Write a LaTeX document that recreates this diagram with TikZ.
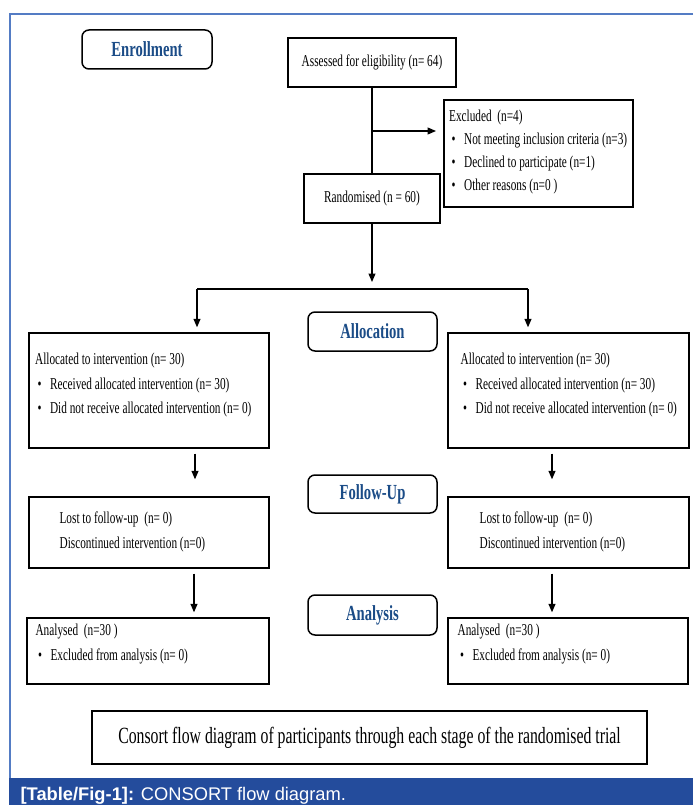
\documentclass[tikz,border=0pt]{standalone}
\usepackage{fontspec}
\setmainfont[FakeStretch=0.68]{Liberation Serif}
\newfontfamily\capfont{Liberation Sans}
\usetikzlibrary{arrows.meta}
\definecolor{stageblue}{RGB}{27,76,135}
\definecolor{frameblue}{RGB}{84,124,196}
\definecolor{barblue}{RGB}{36,76,156}
\newcommand{\itm}{\hspace*{2.5pt}\makebox[12.5pt][l]{\textbullet}}
\tikzset{
  box/.style={draw, line width=1.4pt, inner sep=0pt, font=\fontsize{16.6}{20}\selectfont},
  stage/.style={draw, rounded corners=7pt, line width=1.5pt, minimum width=129, minimum height=39,
    text=stageblue, font=\bfseries\fontsize{21.5}{24}\selectfont},
  txt/.style={anchor=west, align=left, inner sep=0pt},
}
\begin{document}
\begin{tikzpicture}[x=1pt, y=-1pt, >={Triangle[length=8.5pt,width=7pt]}, line width=1.2pt]
\useasboundingbox (0,0) rectangle (693,805);
% frame and caption bar
\draw[frameblue] (693,14) -- (10,14) -- (10,778);
\fill[barblue] (9,778) rectangle (693,805);
\node[anchor=west, inner sep=0pt, text=white, font=\capfont\fontsize{18.3}{20}\selectfont] (figcap) at (20,796) {\textbf{[Table/Fig-1]:} CONSORT flow diagram.};
% stages
\node[stage, minimum width=130] (enrol) at (147,49.5) {Enrollment};
\node[stage] (alloc) at (372.5,331.5) {Allocation};
\node[stage, minimum height=38] (folw) at (372.5,494) {Follow-Up};
\node[stage, minimum height=40] (anly) at (372.5,615) {Analysis};
% boxes
\node[box, minimum width=168, minimum height=49] (assess) at (372,62.5) {Assessed for eligibility (n= 64)};
\node[box, minimum width=189, minimum height=107] (excl) at (538.5,153.5) {};
\node[box, minimum width=136, minimum height=49] (rand) at (372,198.5) {Randomised (n = 60)};
\node[box, minimum width=240, minimum height=115] (allocL) at (149,390.5) {};
\node[box, minimum width=241, minimum height=115] (allocR) at (568.5,390.5) {};
\node[box, minimum width=240, minimum height=71] (folwL) at (149,532.5) {};
\node[box, minimum width=241, minimum height=71] (folwR) at (568.5,532.5) {};
\node[box, minimum width=242, minimum height=66] (anlyL) at (148,651) {};
\node[box, minimum width=240, minimum height=66] (anlyR) at (568,651) {};
\node[box, minimum width=555, minimum height=53, font=\fontsize{23.2}{26}\selectfont] (consort) at (369.5,737.5)
  {Consort flow diagram of participants through each stage of the randomised trial};
% box texts
\node[txt, font=\fontsize{16.6}{22.7}\selectfont] (exclT) at (448.5,152)
  {Excluded\ \ (n=4)\\ \itm Not meeting inclusion criteria (n=3)\\ \itm Declined to participate (n=1)\\ \itm Other reasons (n=0\ )};
\foreach \nm/\x in {allocLT/34.5, allocRT/460}
  \node[txt, font=\fontsize{16.6}{24.5}\selectfont] (\nm) at (\x,385.5)
    {Allocated to intervention (n= 30)\\ \itm Received allocated intervention (n= 30)\\ \itm Did not receive allocated intervention (n= 0)};
\foreach \nm/\x in {folwLT/59, folwRT/479}
  \node[txt, font=\fontsize{16.6}{25}\selectfont] (\nm) at (\x,531.5)
    {Lost to follow-up\ \ (n= 0)\\ Discontinued intervention (n=0)};
\foreach \nm/\x in {anlyLT/35, anlyRT/457}
  \node[txt, font=\fontsize{16.6}{25}\selectfont] (\nm) at (\x,644.5)
    {Analysed\ \ (n=30\ )\\ \itm Excluded from analysis (n= 0)};
% connectors
\coordinate (exclin) at (436,131);
\coordinate (splitL) at (197,289);
\coordinate (splitR) at (528,289);
\draw (assess.south) -- (rand.north);
\draw[->] (assess.south |- exclin) -- (exclin);
\draw[->] (rand.south) -- ([yshift=7]rand.south |- splitL);
\draw (splitL) -- (splitR);
\draw[->] (splitL) -- ([yshift=5]splitL |- allocL.north);
\draw[->] (splitR) -- ([yshift=5]splitR |- allocR.north);
\draw[->] ([xshift=46,yshift=-5]allocL.south) -- ([xshift=46,yshift=17]folwL.north);
\draw[->] ([xshift=-16.5,yshift=-5]allocR.south) -- ([xshift=-16.5,yshift=17]folwR.north);
\draw[->] ([xshift=45,yshift=-5]folwL.south) -- ([xshift=46,yshift=5]anlyL.north);
\draw[->] ([xshift=-16.5,yshift=-5]folwR.south) -- ([xshift=-16,yshift=5]anlyR.north);
\end{tikzpicture}
\end{document}
